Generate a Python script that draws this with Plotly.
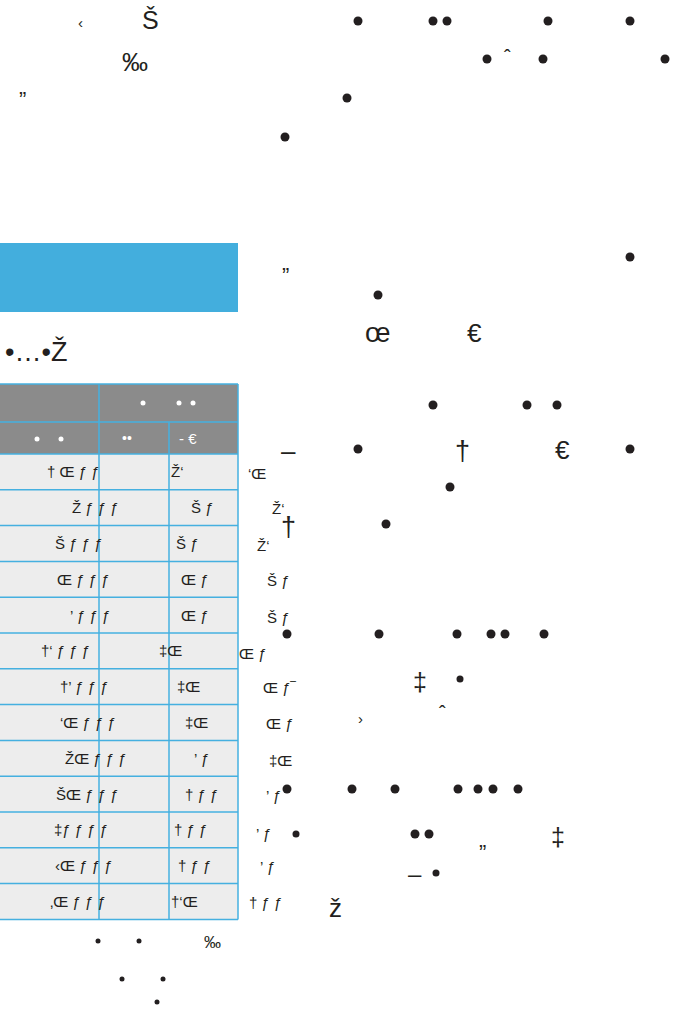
import plotly.graph_objects as go

# ---------------- content (text values) ----------------
col1_labels = ["† Œ ƒ ƒ", "Ž ƒ ƒ ƒ", "Š ƒ ƒ ƒ", "Œ ƒ ƒ ƒ", "’ ƒ ƒ ƒ", "†‘ ƒ ƒ ƒ", "†’ ƒ ƒ ƒ",
               "‘Œ ƒ ƒ ƒ", "ŽŒ ƒ ƒ ƒ", "ŠŒ ƒ ƒ ƒ", "‡ƒ ƒ ƒ ƒ", "‹Œ ƒ ƒ ƒ", "‚Œ ƒ ƒ ƒ"]
col3_labels = ["Ž‘", "Š ƒ", "Š ƒ", "Œ ƒ", "Œ ƒ", "‡Œ", "‡Œ", "‡Œ", "’ ƒ", "† ƒ ƒ", "† ƒ ƒ", "† ƒ ƒ", "†‘Œ"]
side_labels = ["‘Œ", "Ž‘", "Ž‘", "Š ƒ", "Š ƒ", "Œ ƒ", "Œ ƒ‾", "Œ ƒ", "‡Œ", "’ ƒ", "’ ƒ", "’ ƒ", "† ƒ ƒ"]
header2_labels = ["••", "- €"]
title_text = "•…•Ž"

# free-standing glyphs: (text, x, y, size)
free_glyphs = [
    ("‹", 80, 22, 15), ("Š", 150, 20, 25), ("‰", 135, 62, 26), ("„", 22, 86, 22),
    ("ˆ", 507, 57, 20), ("„", 285, 262, 22),
    ("œ", 377, 333, 27), ("€", 474, 333, 26),
    ("–", 288, 451, 26), ("†", 462, 451, 27), ("€", 562, 450, 26),
    ("†", 288, 527, 27), ("‡", 420, 682, 25), ("›", 360, 718, 15), ("ˆ", 442, 713, 20),
    ("‡", 558, 837, 25), ("„", 482, 839, 22), ("–", 415, 873, 24),
    ("ž", 335, 908, 26), ("‰", 212, 942, 17),
]

# ---------------- layout positions ----------------
W, H = 683, 1010
row_top0, row_h, n_rows = 454, 35.8, len(col1_labels)
col1_x = [73, 95, 79, 83, 90, 65, 84, 88, 96, 87, 81, 84, 78]
col3_x = [177, 202, 187, 195, 195, 170, 188, 196, 201, 201, 190, 194, 184]
side_x = [257, 278, 263, 278, 278, 253, 280, 280, 280, 273, 263, 267, 265]
side_y = [473, 508, 545, 580, 617, 653, 687, 723, 760, 795, 833, 866, 902]

big_dots = [(358, 21), (433, 21), (447, 21), (548, 21), (630, 21),
            (487, 59), (543, 59), (665, 59), (347, 98), (285, 137),
            (630, 257), (378, 295), (433, 405), (527, 405), (557, 405),
            (358, 449), (630, 449), (450, 487), (386, 524),
            (287, 634), (379, 634), (457, 634), (491, 634), (505, 634), (544, 634),
            (287, 789), (352, 789), (395, 789), (458, 789), (478, 789), (493, 789), (518, 789),
            (415, 834), (429, 834)]
mid_dots = [(460, 679), (296, 834), (436, 873)]
small_dots = [(98, 941), (139, 941), (122, 979), (163, 979), (157, 1002)]
white_dots = [(143, 403), (179, 403), (193, 403), (37, 439), (61, 439)]

INK = "#231f20"
BLUE = "#45b0e0"
FONT = "Liberation Sans, Arial, sans-serif"

fig = go.Figure()

def add_dots(pts, size, color):
    fig.add_trace(go.Scatter(x=[p[0] for p in pts], y=[p[1] for p in pts], mode="markers",
                             marker=dict(size=size, color=color, line=dict(width=0)),
                             hoverinfo="skip", showlegend=False))

shapes = []
shapes.append(dict(type="rect", x0=0, x1=238, y0=243, y1=312, fillcolor="#43aedd", line=dict(width=0), layer="below"))
shapes.append(dict(type="rect", x0=0, x1=238, y0=384, y1=454, fillcolor="#8b8b8b", line=dict(width=0), layer="below"))
shapes.append(dict(type="rect", x0=0, x1=238, y0=row_top0, y1=row_top0 + row_h * n_rows,
                   fillcolor="#ededed", line=dict(width=0), layer="below"))
lw = 1.5
for yy in [384, 422] + [row_top0 + row_h * k for k in range(n_rows + 1)]:
    shapes.append(dict(type="line", x0=0, x1=238, y0=yy, y1=yy, line=dict(color=BLUE, width=lw)))
bottom = row_top0 + row_h * n_rows
shapes.append(dict(type="line", x0=99, x1=99, y0=384, y1=bottom, line=dict(color=BLUE, width=lw)))
shapes.append(dict(type="line", x0=169, x1=169, y0=422, y1=bottom, line=dict(color=BLUE, width=lw)))
shapes.append(dict(type="line", x0=238, x1=238, y0=384, y1=bottom, line=dict(color=BLUE, width=lw)))

ann = []
def txt(t, x, y, size, color=INK, anchor="center"):
    ann.append(dict(text=t, x=x, y=y, xref="x", yref="y", showarrow=False,
                    xanchor=anchor, yanchor="middle", font=dict(family=FONT, size=size, color=color)))

for i in range(n_rows):
    yc = row_top0 + row_h * (i + 0.5)
    txt(col1_labels[i], col1_x[i], yc, 15)
    txt(col3_labels[i], col3_x[i], yc, 15)
    txt(side_labels[i], side_x[i], side_y[i], 15)

txt(header2_labels[0], 127, 438, 14, "white")
txt(header2_labels[1], 188, 438, 15, "white")
txt(title_text, 3, 351, 27, anchor="left")
for t, x, y, s in free_glyphs:
    txt(t, x, y, s)

fig.add_trace(go.Scatter(x=[0, W], y=[0, H], mode="markers", marker=dict(opacity=0), hoverinfo="skip", showlegend=False))
add_dots(big_dots, 9, INK)
add_dots(mid_dots, 7, INK)
add_dots(small_dots, 5, INK)
add_dots(white_dots, 5, "white")

fig.update_layout(width=W, height=H, margin=dict(l=0, r=0, t=0, b=0),
                  paper_bgcolor="white", plot_bgcolor="white",
                  xaxis=dict(range=[0, W], visible=False, fixedrange=True),
                  yaxis=dict(range=[H, 0], visible=False, fixedrange=True),
                  shapes=shapes, annotations=ann, showlegend=False)

fig.write_html("out.html", config={"displayModeBar": False},
               post_script="document.body.style.margin='0';document.body.style.padding='0';")
